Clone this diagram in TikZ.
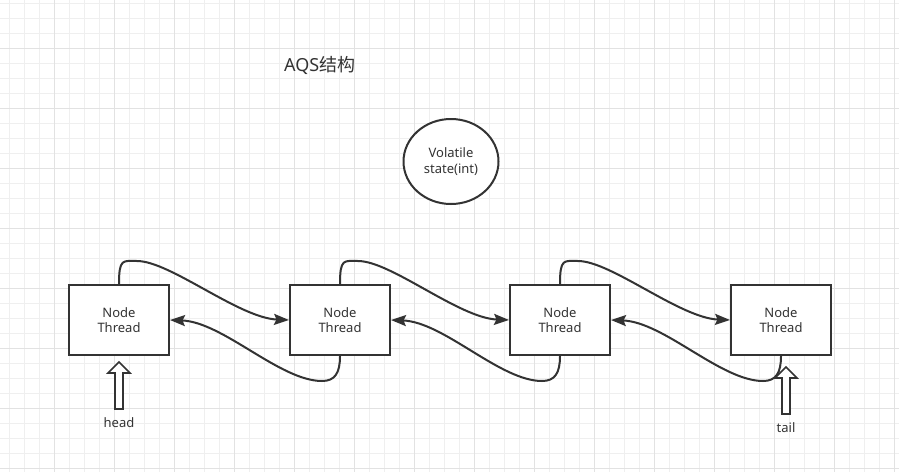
\documentclass[tikz,border=0pt]{standalone}
\usepackage{fontspec}
\setmainfont{Noto Sans}
\newfontfamily\cjk{Noto Sans CJK SC}
\usetikzlibrary{arrows.meta,shapes.geometric}
\definecolor{ink}{HTML}{333333}
\definecolor{gridminor}{HTML}{EFEFEF}
\definecolor{gridmajor}{HTML}{E2E2E2}
\tikzset{
  nodebox/.style={draw=ink, line width=2pt, fill=white, minimum width=100pt, minimum height=70pt,
    inner sep=0pt, align=center, font=\fontsize{13}{15}\selectfont, text=ink},
  statebox/.style={ellipse, draw=ink, line width=2pt, fill=white, minimum width=95pt, minimum height=85pt,
    inner sep=0pt, align=center, font=\fontsize{13}{16}\selectfont, text=ink},
  link/.style={draw=ink, line width=2pt, -{Stealth[length=15pt,width=11pt,inset=2.5pt]}},
  blockarrow/.style={draw=ink, line width=1.6pt, fill=white, line join=miter},
  lbl/.style={font=\fontsize{13}{15}\selectfont, text=ink, inner sep=0pt},
}
\begin{document}
\begin{tikzpicture}[x=1pt,y=-1pt]
\useasboundingbox (0,0) rectangle (899,472);
\fill[white] (0,0) rectangle (899,472);
% grid
\foreach \k in {0,...,59} {\draw[gridminor, line width=1pt] (9.5+15*\k,0) -- (9.5+15*\k,472);}
\foreach \k in {0,...,31} {\draw[gridminor, line width=1pt] (0,3.5+15*\k) -- (899,3.5+15*\k);}
\foreach \k in {0,...,14} {\draw[gridmajor, line width=1pt] (54.5+60*\k,0) -- (54.5+60*\k,472);}
\foreach \k in {0,...,7} {\draw[gridmajor, line width=1pt] (0,48.5+60*\k) -- (899,48.5+60*\k);}

% title
\node[font=\fontsize{18}{20}\selectfont, text=ink, anchor=base west, inner sep=0pt] (title) at (284,71) {AQS{\cjk 结构}};

% state
\node[statebox] (st) at (451,161.5) {Volatile\\state(int)};

% boxes
\node[nodebox] (b1) at (119,320) {Node\\Thread};
\node[nodebox] (b2) at (340,320) {Node\\Thread};
\node[nodebox] (b3) at (560,320) {Node\\Thread};
\node[nodebox] (b4) at (781,320) {Node\\Thread};

% forward links
\foreach \a/\b in {b1/b2,b2/b3,b3/b4} {
  \draw[link] (\a.north) .. controls +(0,-26) and +(-14,0) .. ++(18,-23)
    .. controls +(33,0) and +(-50,-2) .. (\b.west);
}
% backward links
\foreach \a/\b in {b2/b1,b3/b2,b4/b3} {
  \draw[link] (\a.south) .. controls +(0,17) and +(13,0) .. ++(-18,25)
    .. controls +(-42,0) and +(53,2) .. (\b.east);
}

% head / tail block arrows
\draw[blockarrow] (115,409) -- (115,373) -- (108,373) -- (119,362) -- (130,373) -- (123,373) -- (123,409) -- cycle;
\draw[blockarrow] (782,414) -- (782,378) -- (775,378) -- (786,367) -- (797,378) -- (790,378) -- (790,414) -- cycle;

\node[lbl] (head) at (119,423) {head};
\node[lbl] (tail) at (786,428) {tail};
\end{tikzpicture}
\end{document}
